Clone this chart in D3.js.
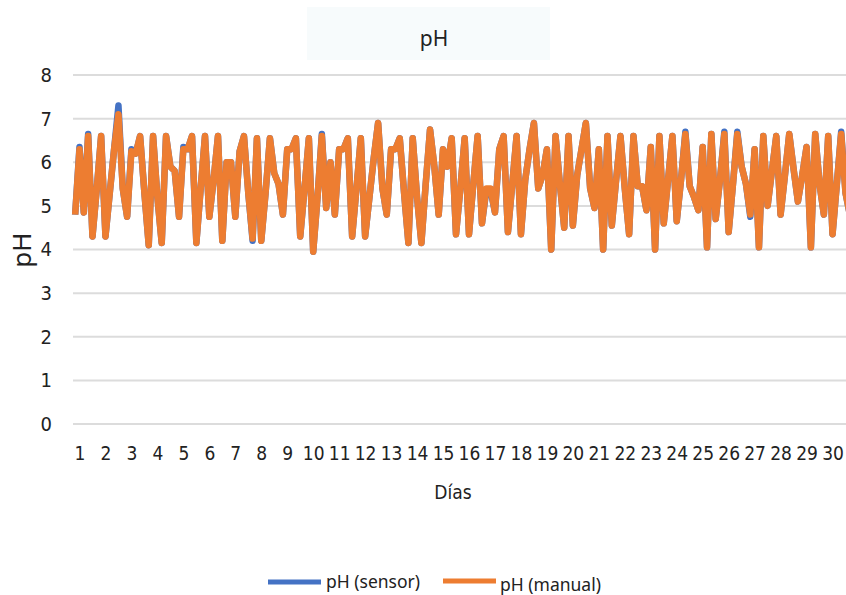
<!DOCTYPE html>
<html>
<head>
<meta charset="utf-8">
<script src="https://cdn.jsdelivr.net/npm/d3@7"></script>
<style>
  body { margin: 0; background: #fff; }
  text { font-family: "Liberation Sans Narrow", "DejaVu Sans Condensed", "Noto Sans", sans-serif; fill: #222; }
  .title { font-family: "Noto Sans", "Open Sans", sans-serif; }
</style>
</head>
<body>
<div id="chart"></div>
<script>
//Day labels on the x axis
var days = d3.range(1, 31);

//Readings per day (6 per day, every 4 h)
var perDay = 6;

//Y tick labels
var yTicks = [0, 1, 2, 3, 4, 5, 6, 7, 8];

//pH (manual) readings
var phManual = [
  4.8, 6.3, 4.85, 6.6, 4.3, 5.4, 6.6, 4.3, 5.3, 6.3, 7.1, 5.4,
  4.75, 6.25, 6.2, 6.6, 5.3, 4.1, 6.6, 5.2, 4.15, 6.6, 5.9, 5.8,
  4.75, 6.3, 6.3, 6.6, 4.15, 5.4, 6.6, 4.75, 5.6, 6.6, 4.2, 6.0,
  6.0, 4.75, 6.25, 6.6, 5.3, 4.25, 6.55, 4.2, 5.3, 6.55, 5.75, 5.5,
  4.8, 6.3, 6.3, 6.55, 4.3, 5.4, 6.55, 3.95, 5.2, 6.6, 4.95, 6.0,
  4.8, 6.3, 6.3, 6.55, 4.3, 5.4, 6.55, 4.3, 5.2, 6.1, 6.9, 5.4,
  4.8, 6.3, 6.3, 6.55, 5.3, 4.15, 6.55, 5.2, 4.15, 5.5, 6.75, 5.9,
  4.8, 6.3, 5.9, 6.55, 4.35, 5.4, 6.55, 4.35, 5.5, 6.6, 4.6, 5.4,
  5.4, 4.85, 6.3, 6.6, 4.4, 5.5, 6.6, 4.35, 5.6, 6.3, 6.9, 5.4,
  5.7, 6.3, 4.0, 6.6, 5.5, 4.5, 6.6, 4.55, 5.7, 6.3, 6.9, 5.4,
  4.95, 6.3, 4.0, 6.6, 4.55, 5.6, 6.6, 5.4, 4.35, 6.6, 5.45, 5.45,
  4.9, 6.35, 4.0, 6.6, 4.6, 5.6, 6.6, 4.65, 5.6, 6.65, 5.45, 5.2,
  4.9, 6.35, 4.05, 6.65, 4.7, 5.6, 6.65, 4.4, 5.5, 6.65, 5.9, 5.5,
  4.8, 6.3, 4.05, 6.6, 5.0, 5.8, 6.6, 4.8, 5.7, 6.65, 5.85, 5.1,
  5.7, 6.35, 4.05, 6.65, 5.5, 4.8, 6.6, 4.35, 5.5, 6.65, 5.3, 4.8
];

//pH (sensor) readings
var phSensor = [
  4.8, 6.35, 4.85, 6.65, 4.3, 5.4, 6.6, 4.3, 5.3, 6.3, 7.3, 5.4,
  4.75, 6.3, 6.2, 6.6, 5.3, 4.1, 6.6, 5.2, 4.15, 6.6, 5.9, 5.8,
  4.75, 6.35, 6.3, 6.6, 4.15, 5.4, 6.6, 4.75, 5.6, 6.6, 4.2, 6.0,
  6.0, 4.75, 6.25, 6.6, 5.3, 4.2, 6.55, 4.2, 5.3, 6.55, 5.75, 5.5,
  4.8, 6.3, 6.3, 6.55, 4.3, 5.4, 6.55, 3.95, 5.2, 6.65, 4.95, 6.0,
  4.8, 6.3, 6.3, 6.55, 4.3, 5.4, 6.55, 4.3, 5.2, 6.1, 6.9, 5.4,
  4.8, 6.3, 6.3, 6.55, 5.3, 4.15, 6.55, 5.2, 4.15, 5.5, 6.75, 5.9,
  4.8, 6.3, 5.9, 6.55, 4.35, 5.4, 6.55, 4.35, 5.5, 6.6, 4.6, 5.35,
  5.35, 4.85, 6.3, 6.6, 4.4, 5.5, 6.6, 4.35, 5.6, 6.3, 6.9, 5.4,
  5.7, 6.3, 4.0, 6.6, 5.5, 4.5, 6.6, 4.55, 5.7, 6.3, 6.9, 5.4,
  4.95, 6.3, 4.0, 6.6, 4.55, 5.6, 6.6, 5.4, 4.35, 6.6, 5.45, 5.45,
  4.9, 6.35, 4.0, 6.6, 4.6, 5.6, 6.6, 4.65, 5.6, 6.7, 5.45, 5.2,
  4.9, 6.35, 4.05, 6.65, 4.7, 5.6, 6.7, 4.4, 5.5, 6.7, 5.9, 5.5,
  4.75, 6.3, 4.05, 6.6, 5.0, 5.8, 6.6, 4.8, 5.7, 6.65, 5.85, 5.1,
  5.7, 6.35, 4.05, 6.65, 5.5, 4.8, 6.6, 4.35, 5.5, 6.7, 5.3, 4.8
];

var width = 846, height = 595;

var svg = d3.select('#chart')
    .append('svg')
    .attr('width', width)
    .attr('height', height);

//Point index -> horizontal position (plot runs past the right edge)
var x = d3.scaleLinear()
    .domain([0, phManual.length])
    .range([73, 852]);

var y = d3.scaleLinear()
    .domain([0, 8])
    .range([424, 75]);

//Day labels sit under the 2nd reading of each day
var xDay = d3.scalePoint()
    .domain(days)
    .range([x(1.5), x((days.length - 1) * perDay + 1.5)]);

//Title box
svg.append('rect')
    .attr('x', 307).attr('y', 7)
    .attr('width', 243).attr('height', 53)
    .attr('fill', '#f7fbfc');

svg.append('text')
    .attr('class', 'title')
    .attr('x', 434).attr('y', 46)
    .attr('text-anchor', 'middle')
    .style('font-size', '21px')
    .text('pH');

//Gridlines
svg.append('g')
    .selectAll('line')
    .data(yTicks)
    .enter()
    .append('line')
    .attr('x1', 73).attr('x2', width)
    .attr('y1', function(d){ return y(d); })
    .attr('y2', function(d){ return y(d); })
    .attr('stroke', '#dcdcdc')
    .attr('stroke-width', 2);

//Y axis labels
var yAxis = svg.append('g')
    .attr('transform', 'translate(52,0)')
    .call(d3.axisLeft(y).tickValues(yTicks).tickSize(0).tickPadding(0));
yAxis.select('.domain').remove();
yAxis.selectAll('text')
    .style('font-size', '20px')
    .style('fill', '#222');

//X axis labels
var xAxis = svg.append('g')
    .attr('transform', 'translate(0,446)')
    .call(d3.axisBottom(xDay).tickSize(0).tickPadding(0));
xAxis.select('.domain').remove();
xAxis.selectAll('text')
    .style('font-size', '19px')
    .style('fill', '#222');

//Axis titles
svg.append('text')
    .attr('class', 'title')
    .attr('transform', 'translate(31,250) rotate(-90)')
    .attr('text-anchor', 'middle')
    .style('font-size', '26px')
    .text('pH');

svg.append('text')
    .attr('x', 453).attr('y', 499)
    .attr('text-anchor', 'middle')
    .style('font-size', '19px')
    .text('Días');

//Lines
var line = d3.line()
    .x(function(d, i){ return x(i + 0.5); })
    .y(function(d){ return y(d); });

var plot = svg.append('g');

plot.append('path')
    .datum(phSensor)
    .attr('d', line)
    .attr('fill', 'none')
    .attr('stroke', '#4472c4')
    .attr('stroke-width', 6.5)
    .attr('stroke-linejoin', 'round');

plot.append('path')
    .datum(phManual)
    .attr('d', line)
    .attr('fill', 'none')
    .attr('stroke', '#ed7d31')
    .attr('stroke-width', 6.5)
    .attr('stroke-linejoin', 'round');

//Legend
var legend = [
  { name: 'pH (sensor)', color: '#4472c4', x: 268, y: 582 },
  { name: 'pH (manual)', color: '#ed7d31', x: 443, y: 581 }
];

var lg = svg.append('g')
    .selectAll('g')
    .data(legend)
    .enter()
    .append('g')
    .attr('transform', function(d){ return 'translate(' + d.x + ',' + d.y + ')'; });

lg.append('line')
    .attr('x1', 0).attr('x2', 53)
    .attr('stroke', function(d){ return d.color; })
    .attr('stroke-width', 5);

lg.append('text')
    .attr('class', 'title')
    .attr('x', function(d, i){ return i ? 57 : 58; })
    .attr('y', function(d, i){ return i ? 10 : 6; })
    .style('font-size', '17.5px')
    .text(function(d){ return d.name; });
</script>
</body>
</html>
